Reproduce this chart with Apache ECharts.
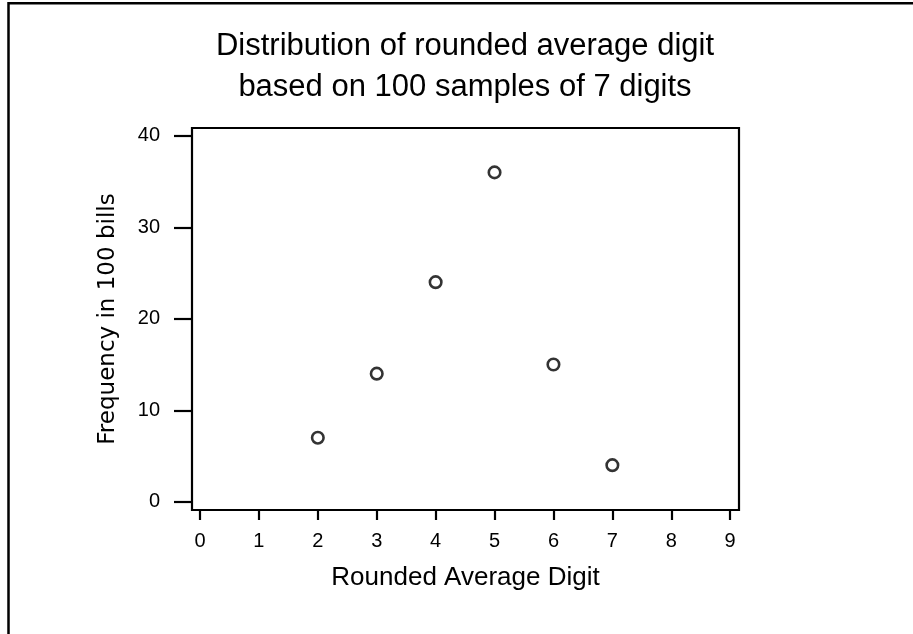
<!DOCTYPE html>
<html>
<head>
<meta charset="utf-8">
<script src="https://cdn.jsdelivr.net/npm/echarts@6/dist/echarts.min.js"></script>
<style>
  html, body { margin: 0; padding: 0; background: #fff; }
  #chart { width: 913px; height: 634px; }
</style>
</head>
<body>
<div id="chart"></div>
<script>
// data
var digits = [2, 3, 4, 5, 6, 7];
var freq = [7, 14, 24, 36, 15, 4];
var xTicks = [0, 1, 2, 3, 4, 5, 6, 7, 8, 9];
var yTicks = [0, 10, 20, 30, 40];

var points = [];
for (var i = 0; i < digits.length; i++) {
  points.push([digits[i], freq[i]]);
}

var font = 'Liberation Sans, Arial, sans-serif';
var myChart = echarts.init(document.getElementById('chart'), null, { renderer: 'canvas' });

var option = {
  backgroundColor: '#fff',
  animation: false,
  title: {
    text: 'Distribution of rounded average digit\nbased on 100 samples of 7 digits',
    left: 460,
    textAlign: 'center',
    top: 21,
    textStyle: { fontFamily: font, fontSize: 31, fontWeight: 'normal', color: '#000', lineHeight: 41 }
  },
  // outer frame of the figure (right and bottom fall off the page)
  graphic: [{
    type: 'rect',
    shape: { x: 8.5, y: 3.2, width: 940, height: 700 },
    style: { fill: 'none', stroke: '#000', lineWidth: 2.5 },
    silent: true
  }],
  grid: {
    left: 192, right: 174, top: 128, bottom: 124,
    show: true, borderColor: '#000', borderWidth: 2.2, backgroundColor: 'transparent'
  },
  xAxis: {
    type: 'value',
    min: -0.136, max: 9.15,
    name: 'Rounded Average Digit',
    nameLocation: 'middle',
    nameGap: 55,
    nameTextStyle: { fontFamily: font, fontSize: 26, color: '#000' },
    axisLine: { show: false, onZero: false },
    splitLine: { show: false },
    axisTick: { show: true, length: 10, inside: false, customValues: xTicks, lineStyle: { color: '#000', width: 2.2 } },
    axisLabel: { customValues: xTicks, margin: 21, fontFamily: font, fontSize: 20, color: '#000' }
  },
  yAxis: {
    type: 'value',
    min: -0.9, max: 40.85,
    name: 'Frequency in 100 bills',
    nameLocation: 'middle',
    nameGap: 72,
    nameTextStyle: { fontFamily: 'DejaVu Sans, sans-serif', fontSize: 23, color: '#000' },
    axisLine: { show: false, onZero: false },
    splitLine: { show: false },
    axisTick: { show: true, length: 18, inside: false, customValues: yTicks, lineStyle: { color: '#000', width: 2.2 } },
    axisLabel: { customValues: yTicks, margin: 32, fontFamily: font, fontSize: 20, color: '#000' }
  },
  series: [{
    type: 'scatter',
    data: points,
    symbol: 'circle',
    symbolSize: 11.5,
    itemStyle: { color: '#fff', borderColor: '#000', borderWidth: 2.6 }
  }]
};

myChart.setOption(option);
</script>
</body>
</html>
